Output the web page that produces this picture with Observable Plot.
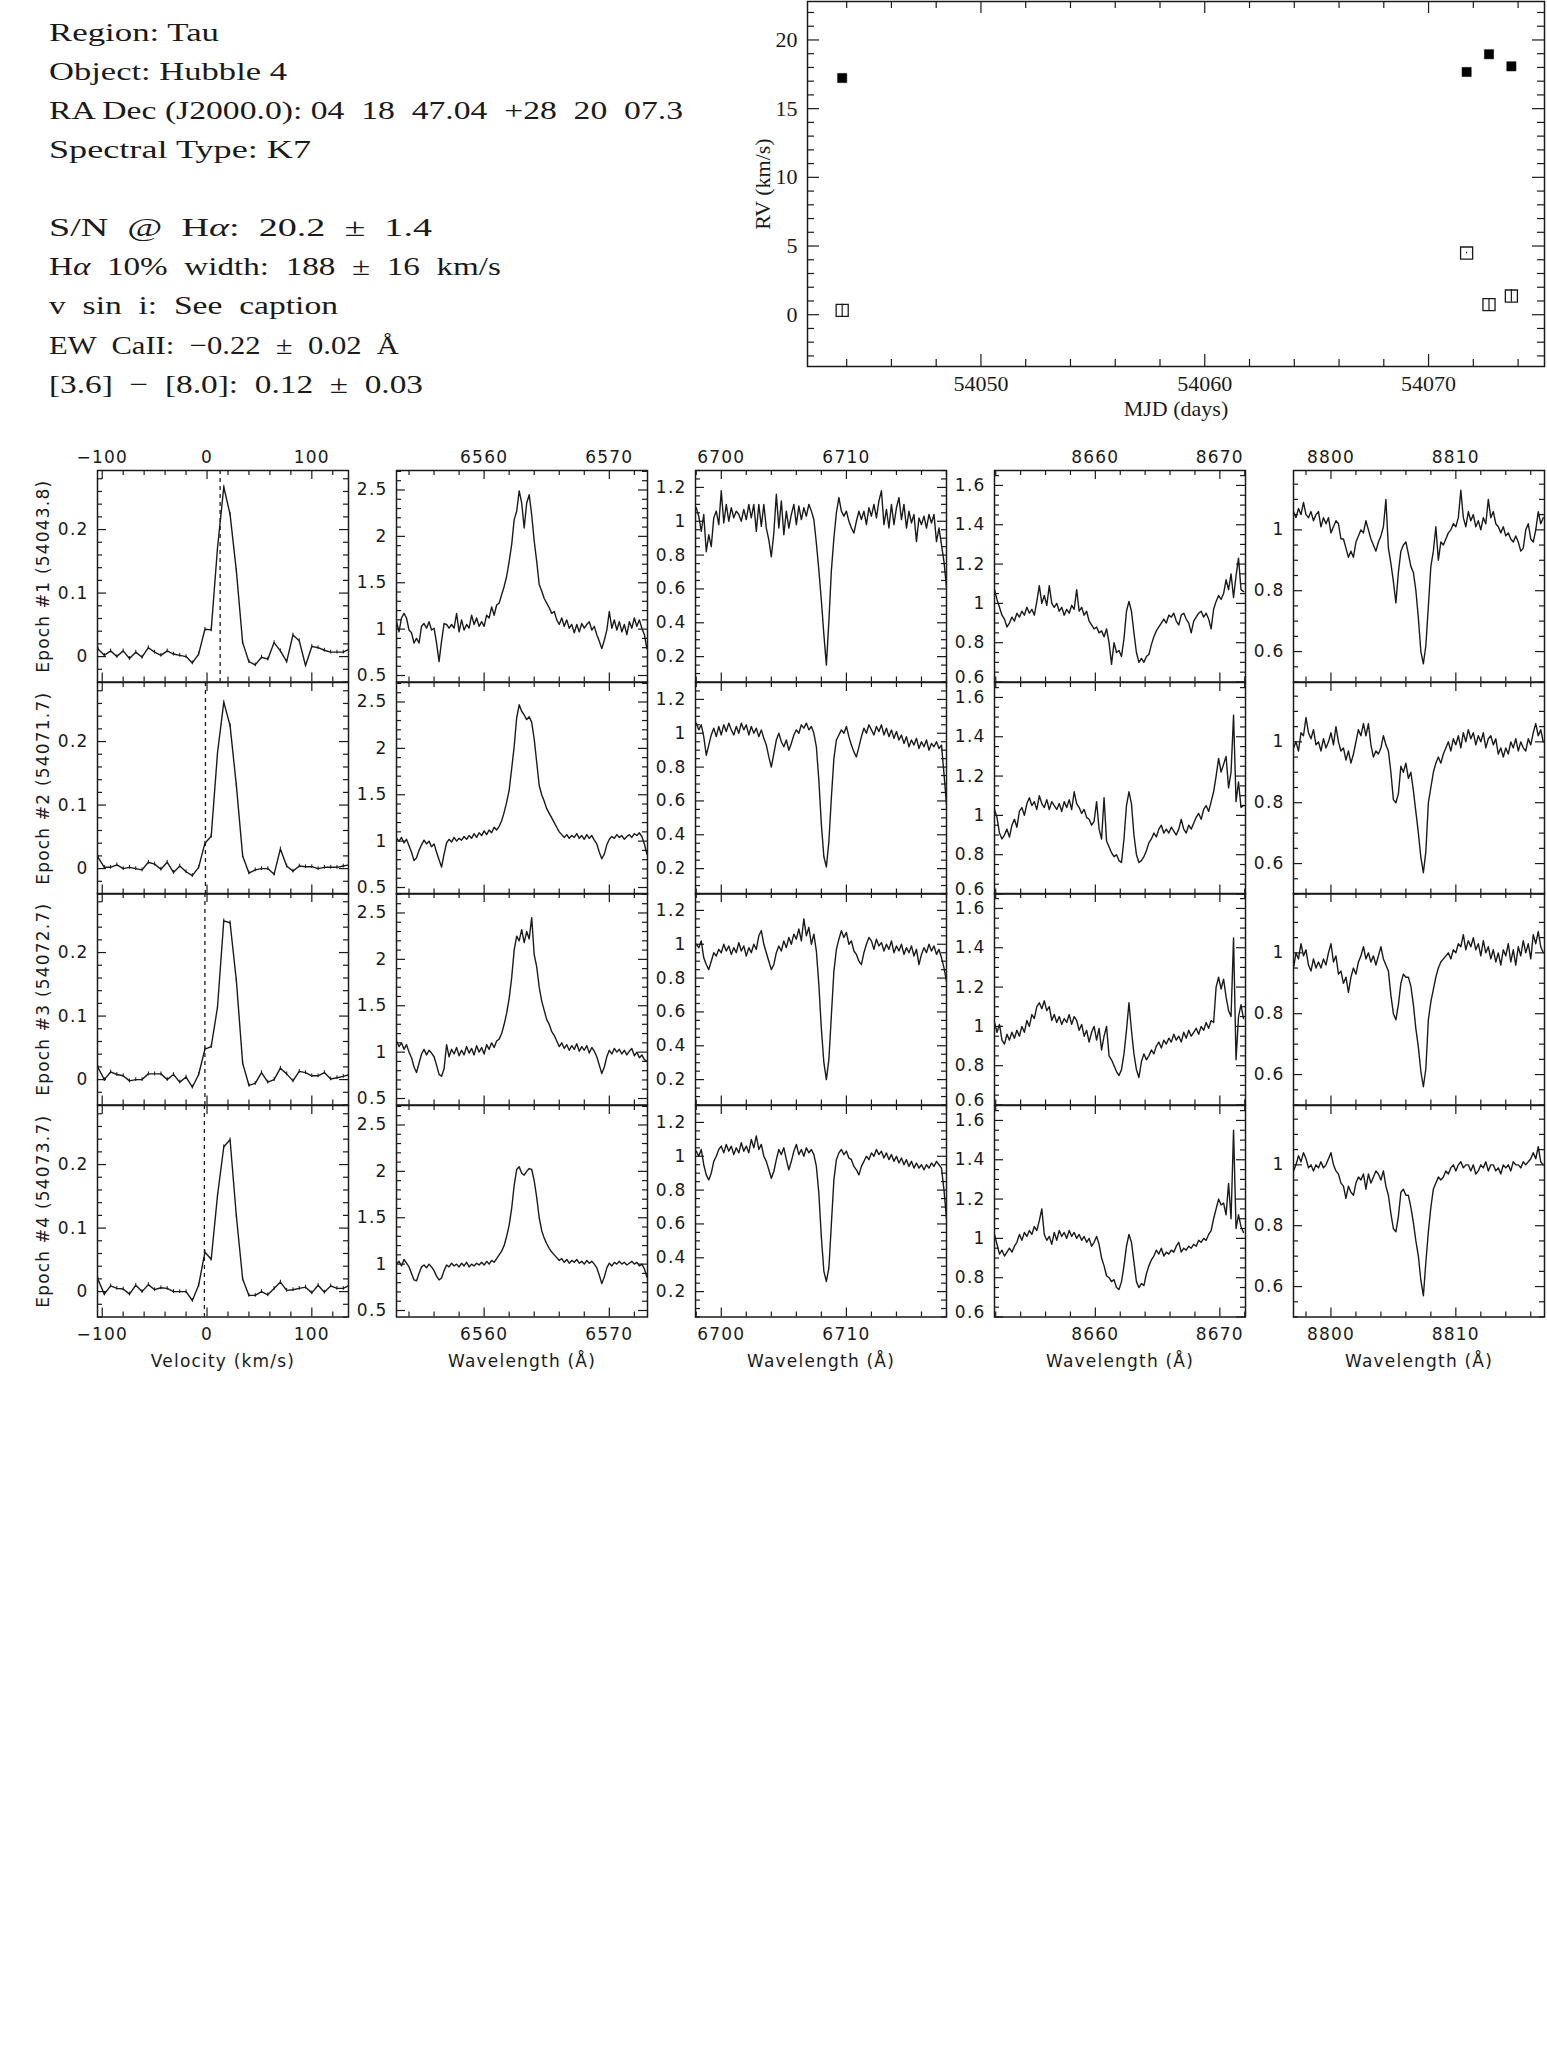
<!DOCTYPE html>
<html><head><meta charset="utf-8">
<script src="https://cdn.jsdelivr.net/npm/d3@7"></script>
<script src="https://cdn.jsdelivr.net/npm/@observablehq/plot@0.6"></script>
<style>
body{margin:0;background:#fff;}
#page{position:relative;width:1547px;height:2069px;background:#fff;overflow:hidden;}
#page svg{position:absolute;}
</style></head>
<body><div id="page"></div>
<script>
// ---------------- DATA ----------------
const infoLines = ["Region: Tau", "Object: Hubble 4", "RA Dec (J2000.0): 04  18  47.04  +28  20  07.3", "Spectral Type: K7", "",
  "S/N  @  Hα:  20.2  ±  1.4", "Hα  10%  width:  188  ±  16  km/s", "v  sin  i:  See  caption", "EW  CaII:  −0.22  ±  0.02  Å", "[3.6]  −  [8.0]:  0.12  ±  0.03"];

const rvEpochMJD = [54043.8, 54071.7, 54072.7, 54073.7];
const rvFilled = [17.23, 17.67, 18.96, 18.08];
const rvOpen = [0.32, 4.49, 0.73, 1.36];
const rvOpenErr = [0.45, 0.05, 0.45, 0.45];
const rvXTicks = [54050, 54060, 54070];
const rvYTicks = [0, 5, 10, 15, 20];

const epochLabels = ["Epoch #1 (54043.8)", "Epoch #2 (54071.7)", "Epoch #3 (54072.7)", "Epoch #4 (54073.7)"];
const ccfDash = [12.5, -1.5, -2, -2.5];
const ccfErrorBar = 0.003;
const ccfVel = [-104,-98,-92,-86,-80,-74,-68,-62,-56,-50,-44,-38,-32,-26,-20,-14,-8,-2,4,10,16,22,28,34,40,46,52,58,64,70,76,82,88,94,100,106,112,118,124,130,136];
const ccfEpoch1 = [0.012,0.002,0.009,0.000,0.009,-0.003,0.007,-0.001,0.014,0.007,0.002,0.009,0.004,0.002,0.000,-0.010,0.004,0.043,0.042,0.171,0.267,0.224,0.135,0.022,-0.008,-0.013,-0.001,-0.004,0.022,0.009,-0.008,0.034,0.025,-0.014,0.016,0.014,0.010,0.007,0.007,0.007,0.012];
const ccfEpoch2 = [0.018,0.002,0.002,0.006,0.000,0.002,0.000,-0.002,0.010,0.007,-0.001,0.010,-0.006,0.004,-0.005,-0.011,0.002,0.040,0.051,0.182,0.262,0.225,0.131,0.020,-0.007,-0.002,0.000,0.000,-0.009,0.031,0.004,-0.004,0.004,0.003,0.003,0.000,0.002,0.002,0.002,0.004,0.006];
const ccfEpoch3 = [0.019,0.000,0.012,0.008,0.006,-0.002,0.000,0.000,0.009,0.009,0.009,0.000,0.008,-0.004,0.004,-0.012,0.008,0.048,0.052,0.114,0.250,0.247,0.156,0.026,-0.009,-0.006,0.011,-0.004,0.000,0.018,0.009,-0.002,0.013,0.011,0.006,0.006,0.011,0.001,0.003,0.005,0.008];
const ccfEpoch4 = [0.019,-0.004,0.009,0.005,0.004,-0.004,0.010,0.000,0.011,0.003,0.006,0.005,0.000,0.000,0.000,-0.014,0.010,0.062,0.051,0.151,0.228,0.239,0.119,0.020,-0.006,-0.006,0.000,-0.005,0.005,0.015,0.002,0.003,0.005,0.007,-0.002,0.010,-0.001,0.009,0.005,0.005,0.010];

// spectra: first wavelength and sampling step (Å), then flux values
const haStart = 6553.0, haStep = 0.2;
const haFlux1 = [1.08,0.97,1.12,1.17,1.12,0.99,0.96,0.85,0.90,0.85,1.03,1.06,1.01,1.08,0.99,1.01,0.85,0.65,0.87,1.06,1.05,1.01,1.05,1.01,1.17,0.97,1.10,0.99,1.05,1.01,1.15,1.05,1.12,1.03,1.08,1.03,1.15,1.12,1.24,1.15,1.26,1.28,1.37,1.46,1.57,1.73,1.91,2.18,2.27,2.49,2.36,2.09,2.36,2.45,2.23,1.95,1.73,1.48,1.41,1.33,1.28,1.23,1.17,1.19,1.10,1.05,1.12,1.03,1.10,1.01,1.05,0.96,1.05,0.97,1.06,1.01,1.05,1.08,0.99,1.03,0.94,0.87,0.79,0.88,0.99,1.19,1.01,1.10,0.99,1.08,0.97,1.05,0.94,1.08,1.01,1.12,1.03,1.10,1.01,0.94,0.79];
const haFlux2 = [1.03,1.00,1.04,0.98,1.02,0.95,0.88,0.79,0.82,0.90,0.96,1.01,0.97,1.00,0.94,0.97,0.88,0.80,0.72,0.86,0.98,1.02,0.99,1.04,1.00,1.03,1.01,1.05,1.02,1.06,1.03,1.08,1.04,1.09,1.06,1.11,1.07,1.12,1.09,1.15,1.12,1.16,1.22,1.31,1.42,1.55,1.78,2.02,2.33,2.47,2.40,2.36,2.31,2.34,2.28,2.10,1.85,1.60,1.50,1.43,1.35,1.30,1.25,1.20,1.15,1.10,1.07,1.04,1.07,1.03,1.06,1.04,1.08,1.03,1.06,1.02,1.07,1.03,1.06,1.01,0.97,0.88,0.81,0.86,0.96,1.02,1.05,1.03,1.07,1.04,1.06,1.02,1.05,1.07,1.04,1.08,1.06,1.09,1.05,0.97,0.86];
const haFlux3 = [1.12,1.06,1.10,1.03,1.08,1.00,0.94,0.84,0.78,0.88,0.98,1.03,0.97,1.02,0.99,0.95,0.86,0.76,0.74,0.82,1.08,0.95,1.03,0.98,1.05,0.96,1.02,0.97,1.06,0.99,1.04,0.97,1.07,1.00,1.05,0.98,1.08,1.03,1.10,1.05,1.12,1.14,1.20,1.30,1.42,1.58,1.80,2.10,2.25,2.20,2.32,2.18,2.30,2.22,2.45,2.05,1.92,1.70,1.55,1.45,1.35,1.30,1.22,1.18,1.12,1.06,1.10,1.04,1.08,1.02,1.07,1.03,1.09,1.01,1.06,1.02,1.07,0.99,1.05,1.01,0.95,0.86,0.77,0.84,0.95,1.02,0.98,1.04,1.00,1.03,0.98,1.02,0.97,1.01,1.04,0.96,1.00,0.94,0.97,0.92,0.90];
const haFlux4 = [1.00,1.03,0.98,1.05,1.01,0.97,0.90,0.83,0.82,0.90,0.97,0.99,0.96,1.00,0.97,0.93,0.87,0.83,0.85,0.93,0.99,0.97,1.01,0.98,1.00,0.97,1.01,0.98,1.02,0.97,1.00,0.98,1.01,0.99,1.02,0.99,1.03,1.00,1.04,1.02,1.06,1.10,1.14,1.20,1.30,1.42,1.60,1.85,2.02,2.05,1.98,1.96,2.00,2.03,2.02,1.90,1.72,1.50,1.36,1.28,1.22,1.17,1.13,1.10,1.07,1.04,1.06,1.02,1.05,1.01,1.04,1.02,1.05,1.01,1.03,1.00,1.04,1.01,1.03,1.00,0.96,0.88,0.79,0.86,0.96,1.01,0.98,1.02,1.00,1.03,1.00,1.02,0.99,1.01,1.03,1.00,1.02,0.98,1.00,0.95,0.86];

const liStart = 6698.0, liStep = 0.2;
const liFlux1 = [1.08,1.03,0.94,1.04,0.82,0.92,0.85,1.02,1.06,0.98,1.18,0.99,1.10,1.00,1.08,1.02,1.06,1.04,1.00,1.07,1.01,1.10,1.02,1.10,0.94,1.10,0.97,1.10,0.96,0.89,0.79,0.93,1.16,0.96,1.12,0.92,1.06,0.96,1.04,1.10,0.98,1.09,1.01,1.08,1.03,1.10,1.06,1.01,0.87,0.71,0.53,0.33,0.15,0.41,0.71,0.90,1.05,1.14,1.06,1.03,1.06,1.00,0.96,0.93,1.00,1.06,1.01,1.06,0.98,1.08,1.03,1.10,1.02,1.12,1.18,0.98,1.07,0.96,1.10,0.98,1.08,1.14,1.01,1.10,0.96,1.06,0.99,1.04,0.88,1.02,0.98,1.03,0.96,1.04,0.99,1.04,0.88,0.96,0.86,0.76,0.61];
const liFlux2 = [1.06,1.02,1.05,0.98,0.87,0.93,0.99,1.03,0.98,1.04,0.99,1.05,1.01,1.06,1.02,0.99,1.04,1.00,1.06,1.02,1.05,0.99,1.04,1.00,1.03,0.98,1.02,0.97,0.93,0.86,0.80,0.88,0.96,1.00,0.95,0.92,0.96,0.90,0.94,0.99,1.02,1.00,1.05,1.03,1.06,1.02,1.04,1.00,0.92,0.72,0.46,0.27,0.21,0.36,0.62,0.85,0.96,0.99,1.02,1.00,1.04,0.98,0.93,0.89,0.86,0.92,0.98,1.03,1.00,1.05,1.02,0.99,1.04,1.01,1.05,0.99,1.03,0.98,1.02,0.97,1.01,0.96,0.99,0.94,0.98,0.92,0.96,0.93,0.97,0.91,0.95,0.92,0.96,0.90,0.94,0.92,0.95,0.91,0.93,0.76,0.58];
const liFlux3 = [1.00,0.98,1.02,0.92,0.88,0.85,0.90,0.95,0.93,0.97,0.95,1.00,0.96,0.99,0.94,0.98,0.95,1.01,0.96,0.99,0.93,0.98,0.95,1.00,0.97,1.05,1.08,1.00,0.95,0.90,0.85,0.88,0.95,0.99,0.96,1.02,0.98,1.04,1.00,1.06,1.03,1.09,1.02,1.15,1.05,1.10,1.00,1.06,0.96,0.76,0.50,0.30,0.20,0.32,0.58,0.84,0.97,1.03,1.08,1.04,1.07,1.00,1.02,0.96,0.94,0.90,0.88,0.95,1.00,1.04,1.02,0.97,1.03,0.99,1.01,0.96,1.00,0.97,1.02,0.95,0.99,0.96,1.00,0.94,0.98,0.95,0.99,0.93,0.97,0.88,0.94,0.98,0.95,1.00,0.96,0.99,0.94,0.97,0.92,0.86,0.78];
const liFlux4 = [1.03,1.00,1.04,0.95,0.89,0.86,0.90,0.97,1.00,1.04,1.06,1.02,1.07,1.03,1.06,1.01,1.05,1.02,1.08,1.03,1.06,1.02,1.10,1.05,1.12,1.04,1.07,1.00,0.97,0.92,0.87,0.91,0.98,1.04,1.01,1.05,0.98,0.92,0.97,1.03,1.07,1.01,1.04,1.00,1.05,1.02,1.04,1.01,0.94,0.78,0.52,0.32,0.26,0.34,0.60,0.86,0.98,1.02,1.04,1.01,1.03,0.99,0.98,0.94,0.92,0.89,0.94,0.97,1.00,0.98,1.02,1.00,1.04,1.01,1.03,0.99,1.02,0.98,1.01,0.97,1.00,0.96,0.99,0.95,0.98,0.94,0.97,0.93,0.96,0.93,0.95,0.92,0.95,0.93,0.96,0.94,0.97,0.95,0.93,0.80,0.63];

const ca1Start = 8651.9, ca1Step = 0.2;
const ca1Flux1 = [1.07,1.02,0.98,0.94,0.92,0.88,0.90,0.93,0.91,0.95,0.93,0.96,0.94,0.98,0.95,0.97,0.94,1.01,1.09,1.00,1.04,0.99,1.09,1.00,0.98,1.00,0.96,0.98,0.94,0.97,0.95,0.99,0.97,1.07,0.96,0.98,0.94,0.96,0.91,0.89,0.87,0.88,0.85,0.86,0.83,0.87,0.80,0.69,0.80,0.75,0.76,0.73,0.82,0.96,1.01,0.96,0.85,0.75,0.70,0.72,0.70,0.73,0.74,0.79,0.83,0.86,0.88,0.90,0.92,0.90,0.94,0.93,0.95,0.91,0.89,0.94,0.95,0.92,0.90,0.85,0.91,0.93,0.95,0.96,0.93,0.95,0.92,0.87,0.97,1.01,1.04,1.02,1.05,1.12,1.07,1.15,1.03,1.14,1.23,1.07,1.06];
const ca1Flux2 = [1.03,0.99,0.91,0.88,0.90,0.93,0.89,0.95,0.98,0.94,1.02,1.04,1.00,1.06,1.09,1.05,1.07,1.03,1.10,1.06,1.04,1.08,1.03,1.07,1.05,1.03,1.06,1.02,1.07,1.04,1.08,1.03,1.12,1.06,1.04,1.01,1.03,0.99,0.98,0.95,0.97,1.07,0.93,0.88,1.09,0.87,0.84,0.81,0.79,0.80,0.77,0.76,0.88,1.05,1.12,1.06,0.90,0.80,0.76,0.77,0.79,0.82,0.86,0.88,0.91,0.89,0.93,0.95,0.91,0.93,0.91,0.94,0.92,0.90,0.93,0.98,0.93,0.91,0.95,0.93,0.96,0.99,1.01,0.98,1.03,1.05,1.02,1.07,1.12,1.20,1.29,1.22,1.26,1.30,1.14,1.22,1.51,1.07,1.17,1.04,1.05];
const ca1Flux3 = [1.02,0.97,1.01,0.93,0.91,0.96,0.93,0.97,0.94,0.98,0.95,1.00,0.97,1.03,1.00,1.06,1.04,1.10,1.12,1.09,1.13,1.08,1.10,1.03,1.06,1.02,1.05,1.01,1.04,1.02,1.06,1.01,1.05,1.03,0.98,1.01,0.95,0.98,0.92,0.97,1.00,0.93,0.99,0.88,0.95,1.00,0.85,0.83,0.80,0.77,0.75,0.78,0.86,0.98,1.12,0.98,0.86,0.78,0.74,0.82,0.86,0.83,0.85,0.88,0.86,0.90,0.92,0.89,0.93,0.91,0.94,0.92,0.96,0.93,0.95,0.92,0.97,0.94,0.98,0.95,0.97,0.99,0.96,1.00,0.98,1.02,0.99,1.03,1.02,1.20,1.25,1.19,1.24,1.15,1.08,1.05,1.45,0.83,1.05,1.11,1.04];
const ca1Flux4 = [1.02,0.97,0.92,0.94,0.91,0.93,0.95,0.93,0.96,0.98,1.02,0.99,1.03,1.01,1.04,1.02,1.06,1.04,1.09,1.15,1.02,0.99,1.01,0.97,1.03,0.99,1.04,1.01,1.03,1.00,1.04,1.01,1.03,1.00,1.02,0.99,1.01,0.98,1.00,0.96,0.98,1.01,0.97,0.90,0.86,0.81,0.80,0.78,0.79,0.75,0.74,0.78,0.86,0.96,1.02,0.98,0.88,0.78,0.75,0.77,0.76,0.82,0.86,0.89,0.91,0.94,0.92,0.95,0.91,0.93,0.92,0.94,0.93,0.96,0.98,0.93,0.95,0.94,0.96,0.95,0.97,0.96,0.99,0.98,1.00,0.99,1.02,1.04,1.10,1.15,1.20,1.17,1.18,1.12,1.28,1.10,1.55,1.05,1.12,1.06,1.03];

const ca2Start = 8797.0, ca2Step = 0.2;
const ca2Flux1 = [1.06,1.04,1.07,1.05,1.09,1.05,1.04,1.06,1.03,1.05,1.06,1.01,1.04,1.02,1.04,0.99,1.01,1.03,1.02,0.97,0.97,0.94,0.91,0.93,0.91,0.96,0.98,1.00,0.99,1.03,1.00,0.97,0.95,0.93,0.96,0.98,1.01,1.10,0.94,0.89,0.83,0.76,0.86,0.93,0.95,0.96,0.92,0.88,0.86,0.80,0.71,0.60,0.56,0.62,0.75,0.88,0.93,1.01,0.90,0.96,0.95,0.97,0.99,1.00,1.02,1.01,1.04,1.13,1.04,1.01,1.06,1.03,1.05,1.01,1.03,1.00,1.04,1.02,1.10,1.04,1.06,1.02,1.01,0.99,1.01,0.98,0.99,0.97,0.96,0.98,0.96,0.93,0.94,1.00,1.02,0.97,0.96,1.00,1.06,1.02,1.04];
const ca2Flux2 = [0.98,1.00,0.97,1.03,1.02,1.08,1.03,1.01,1.04,0.99,1.00,0.97,1.01,0.98,1.00,1.03,0.99,1.05,1.00,0.97,0.98,0.94,0.97,0.93,0.96,1.00,1.04,1.02,1.06,1.02,1.06,0.99,0.95,0.97,0.96,0.98,1.02,0.99,0.97,0.90,0.81,0.80,0.83,0.92,0.90,0.93,0.88,0.90,0.84,0.77,0.70,0.62,0.57,0.64,0.80,0.85,0.90,0.93,0.95,0.93,0.96,0.98,1.00,0.97,1.01,0.99,1.02,0.98,1.03,1.00,1.04,1.01,1.03,0.99,1.02,1.00,1.03,0.98,1.01,1.02,0.99,1.01,0.96,0.98,0.95,0.98,0.96,1.00,0.98,1.01,0.97,1.00,0.98,0.97,1.01,0.99,1.03,1.06,1.02,1.04,1.00];
const ca2Flux3 = [0.95,1.00,0.98,1.03,0.99,1.01,0.96,0.94,0.98,0.95,0.97,0.95,0.98,0.96,1.00,1.03,0.97,0.99,0.93,0.94,0.90,0.92,0.87,0.92,0.95,0.93,0.97,0.99,1.02,0.98,1.00,0.97,0.99,0.96,0.99,1.02,0.98,0.96,0.94,0.86,0.80,0.78,0.83,0.90,0.93,0.92,0.92,0.89,0.83,0.75,0.69,0.61,0.56,0.62,0.78,0.84,0.88,0.92,0.95,0.97,0.98,0.99,1.00,0.98,1.01,1.00,1.03,1.02,1.06,1.01,1.04,1.02,1.05,1.01,1.03,0.99,1.04,1.00,1.02,0.98,1.01,0.97,1.00,0.96,1.01,0.99,1.03,0.97,1.01,0.96,1.02,0.99,1.04,1.00,1.03,0.98,1.06,1.03,1.07,1.02,1.00];
const ca2Flux4 = [0.98,1.00,1.03,1.01,1.04,1.02,0.99,1.00,0.98,1.00,0.99,1.01,0.99,1.00,1.02,1.04,1.00,0.98,0.97,0.94,0.93,0.89,0.93,0.91,0.90,0.94,0.96,0.95,0.97,0.92,0.97,0.94,0.96,0.98,0.97,0.95,0.98,0.93,0.90,0.84,0.79,0.78,0.83,0.91,0.92,0.90,0.90,0.86,0.81,0.75,0.70,0.62,0.57,0.68,0.78,0.86,0.92,0.94,0.96,0.95,0.96,0.98,0.97,0.99,1.00,0.98,1.00,1.01,0.99,1.00,1.00,0.98,1.00,0.97,0.98,1.00,0.99,1.01,0.98,1.00,1.00,0.98,0.99,0.97,1.00,0.99,1.00,0.98,1.01,1.00,1.00,0.99,1.01,1.00,1.01,1.02,1.04,1.02,1.06,1.01,1.00];

// ---------------- LAYOUT ----------------
const page = document.getElementById("page");
const INK = "#1a1a1a";

// info block (serif text, top left)
const infoWidths = [170, 238, 634, 262, 0, 383, 452, 289, 350, 374];
const info = d3.create("svg").attr("width", 760).attr("height", 420)
  .style("left", "0px").style("top", "0px");
infoLines.forEach((line, i) => {
  if (!line) return;
  const t = info.append("text")
    .attr("x", 49).attr("y", 40.7 + 39.1 * i)
    .attr("font-family", "Liberation Serif").attr("font-size", 26)
    .attr("fill", INK).attr("xml:space", "preserve").style("white-space", "pre")
    .attr("textLength", infoWidths[i]).attr("lengthAdjust", "spacingAndGlyphs");
  line.split("α").forEach((part, j) => {
    if (j > 0) t.append("tspan").attr("font-style", "italic").text("α");
    if (part) t.append("tspan").text(part);
  });
});
page.appendChild(info.node());

function minorTicks(a, b, step, majors) {
  const out = [];
  const n = Math.round((b - a) / step);
  for (let k = 0; k <= n; k++) {
    const v = +(a + k * step).toFixed(4);
    if (!majors.some(m => Math.abs(m - v) < 1e-6)) out.push(v);
  }
  return out;
}
function frameTicks(xd, yd, fw, fh, xMaj, xMin, yMaj, yMin, Lmaj, Lmin) {
  const kx = (xd[1] - xd[0]) / fw, ky = (yd[1] - yd[0]) / fh;
  const s = {stroke: INK, strokeWidth: 1.2};
  const out = [];
  for (const [vals, L] of [[xMaj, Lmaj], [xMin, Lmin]]) {
    out.push(Plot.ruleX(vals, {x: d => d, y1: yd[0], y2: yd[0] + L * ky, ...s}));
    out.push(Plot.ruleX(vals, {x: d => d, y1: yd[1] - L * ky, y2: yd[1], ...s}));
  }
  for (const [vals, L] of [[yMaj, Lmaj], [yMin, Lmin]]) {
    out.push(Plot.ruleY(vals, {y: d => d, x1: xd[0], x2: xd[0] + L * kx, ...s}));
    out.push(Plot.ruleY(vals, {y: d => d, x1: xd[1] - L * kx, x2: xd[1], ...s}));
  }
  return out;
}
const fmt = d => (d < 0 ? "−" : "") + Math.abs(d);

// ---------------- RV panel ----------------
{
  const fx = 807, fy = 1, fw = 737, fh = 365, ml = 70, mt = 2, mb = 70, mr = 3;
  const xd = [54042.25, 54075.18], yd = [-3.77, 22.8];
  const rows = rvEpochMJD.map((m, i) => ({mjd: m, f: rvFilled[i], o: rvOpen[i], e: rvOpenErr[i]}));
  const p = Plot.plot({
    width: ml + fw + mr, height: mt + fh + mb,
    marginLeft: ml, marginRight: mr, marginTop: mt, marginBottom: mb,
    x: {domain: xd}, y: {domain: yd},
    style: {fontFamily: "Liberation Serif", fontSize: "22px", background: "none", color: INK, overflow: "visible"},
    marks: [
      Plot.frame({stroke: INK, strokeWidth: 1.5}),
      ...frameTicks(xd, yd, fw, fh, rvXTicks, minorTicks(54044, 54074, 2, rvXTicks), rvYTicks, minorTicks(-3, 22, 1, rvYTicks), 12, 7),
      Plot.axisX({anchor: "bottom", ticks: rvXTicks, tickSize: 0, tickPadding: 9, tickFormat: d => String(d), label: null}),
      Plot.axisY({anchor: "left", ticks: rvYTicks, tickSize: 0, tickPadding: 10, tickFormat: d => String(d), label: null}),
      Plot.text(["MJD (days)"], {frameAnchor: "bottom", dy: 42, text: d => d, textAnchor: "middle", lineAnchor: "middle"}),
      Plot.text(["RV (km/s)"], {frameAnchor: "left", rotate: -90, dx: -45, text: d => d, textAnchor: "middle", lineAnchor: "middle"}),
      Plot.dot(rows, {x: "mjd", y: "o", symbol: "square", r: 6.8, stroke: INK, strokeWidth: 1.3, fill: "white"}),
      Plot.ruleX(rows, {x: "mjd", y1: d => d.o - d.e, y2: d => d.o + d.e, stroke: INK, strokeWidth: 1.2}),
      Plot.dot(rows, {x: "mjd", y: "f", symbol: "square", r: 5.2, fill: "#000", stroke: "#000", strokeWidth: 0.5})
    ]
  });
  p.style.left = (fx - ml) + "px"; p.style.top = (fy - mt) + "px";
  page.appendChild(p);
}

// ---------------- grid of spectra ----------------
const ML = 70, MR = 4, MT = 44, MB = 80;
const FW = 251, FH = 211.5;
const colX = [97, 396, 695, 994, 1293];
const rowY = [470, 681.5, 893, 1104.5];

const columns = [
  {kind: "ccf", xd: [-104.5, 135], yd: [-0.04, 0.293],
   xMaj: [-100, 0, 100], xMin: minorTicks(-100, 120, 20, [-100, 0, 100]),
   yMaj: [0, 0.1, 0.2], yMin: minorTicks(-0.04, 0.28, 0.02, [0, 0.1, 0.2]),
   xLabel: "Velocity (km/s)", series: [ccfEpoch1, ccfEpoch2, ccfEpoch3, ccfEpoch4]},
  {kind: "spec", start: haStart, step: haStep, xd: [6553, 6573.05], yd: [0.43, 2.71],
   xMaj: [6560, 6570], xMin: minorTicks(6554, 6572, 2, [6560, 6570]),
   yMaj: [0.5, 1, 1.5, 2, 2.5], yMin: minorTicks(0.5, 2.7, 0.1, [0.5, 1, 1.5, 2, 2.5]),
   xLabel: "Wavelength (Å)", series: [haFlux1, haFlux2, haFlux3, haFlux4]},
  {kind: "spec", start: liStart, step: liStep, xd: [6697.94, 6718.0], yd: [0.05, 1.3],
   xMaj: [6700, 6710], xMin: minorTicks(6698, 6718, 2, [6700, 6710]),
   yMaj: [0.2, 0.4, 0.6, 0.8, 1, 1.2], yMin: minorTicks(0.05, 1.3, 0.05, [0.2, 0.4, 0.6, 0.8, 1, 1.2]),
   xLabel: "Wavelength (Å)", series: [liFlux1, liFlux2, liFlux3, liFlux4]},
  {kind: "spec", start: ca1Start, step: ca1Step, xd: [8651.9, 8672.06], yd: [0.6, 1.676],
   xMaj: [8660, 8670], xMin: minorTicks(8652, 8672, 2, [8660, 8670]),
   yMaj: [0.6, 0.8, 1, 1.2, 1.4, 1.6], yMin: minorTicks(0.6, 1.65, 0.05, [0.6, 0.8, 1, 1.2, 1.4, 1.6]),
   xLabel: "Wavelength (Å)", series: [ca1Flux1, ca1Flux2, ca1Flux3, ca1Flux4]},
  {kind: "spec", start: ca2Start, step: ca2Step, xd: [8797, 8817.1], yd: [0.5, 1.195],
   xMaj: [8800, 8810], xMin: minorTicks(8798, 8816, 2, [8800, 8810]),
   yMaj: [0.6, 0.8, 1], yMin: minorTicks(0.5, 1.15, 0.05, [0.6, 0.8, 1]),
   xLabel: "Wavelength (Å)", series: [ca2Flux1, ca2Flux2, ca2Flux3, ca2Flux4]}
];

columns.forEach((col, c) => {
  for (let r = 0; r < 4; r++) {
    const flux = col.series[r];
    // a label sitting exactly on the bottom edge is nudged up, as in the original
    const edgeTicks = col.yMaj.filter(v => Math.abs(v - col.yd[0]) < 1e-6);
    const innerTicks = col.yMaj.filter(v => Math.abs(v - col.yd[0]) >= 1e-6);
    const marks = [
      ...frameTicks(col.xd, col.yd, FW, FH, col.xMaj, col.xMin, col.yMaj, col.yMin, 9, 5),
      Plot.axisY({anchor: "left", ticks: innerTicks, tickSize: 0, tickPadding: 9, tickFormat: fmt, label: null}),
      Plot.axisY({anchor: "left", ticks: edgeTicks, tickSize: 0, tickPadding: 9, tickFormat: fmt, label: null, dy: -4}),
      Plot.axisX({anchor: "top", ticks: r === 0 ? col.xMaj : [], tickSize: 0, tickPadding: 8, tickFormat: fmt, label: null}),
      Plot.axisX({anchor: "bottom", ticks: r === 3 ? col.xMaj : [], tickSize: 0, tickPadding: 11, tickFormat: fmt, label: null})
    ];
    if (col.kind === "ccf") {
      marks.push(
        Plot.ruleX([ccfDash[r]], {x: d => d, stroke: INK, strokeWidth: 1.3, strokeDasharray: "4,4"}),
        Plot.line(flux, {x: (d, i) => ccfVel[i], y: d => d, stroke: INK, strokeWidth: 1.4, clip: true}),
        Plot.ruleX(flux, {x: (d, i) => ccfVel[i], y1: d => d - ccfErrorBar, y2: d => d + ccfErrorBar, stroke: INK, strokeWidth: 1, clip: true}),
        Plot.text([epochLabels[r]], {frameAnchor: "left", rotate: -90, dx: -54, text: d => d, textAnchor: "middle", lineAnchor: "middle"})
      );
    } else {
      marks.push(Plot.line(flux, {x: (d, i) => col.start + i * col.step, y: d => d, stroke: INK, strokeWidth: 1.4, clip: true}));
    }
    if (r === 3) marks.push(Plot.text([col.xLabel], {frameAnchor: "bottom", dy: 45, text: d => d, textAnchor: "middle", lineAnchor: "middle"}));
    marks.push(Plot.frame({stroke: INK, strokeWidth: 1.5}));
    const p = Plot.plot({
      width: ML + FW + MR, height: MT + FH + MB,
      marginLeft: ML, marginRight: MR, marginTop: MT, marginBottom: MB,
      x: {domain: col.xd}, y: {domain: col.yd},
      style: {fontFamily: "DejaVu Sans", fontSize: "17px", letterSpacing: "1.2px", background: "none", color: INK, overflow: "visible"},
      marks
    });
    p.style.left = (colX[c] - ML) + "px";
    p.style.top = (rowY[r] - MT) + "px";
    page.appendChild(p);
  }
});
</script>
</body></html>
